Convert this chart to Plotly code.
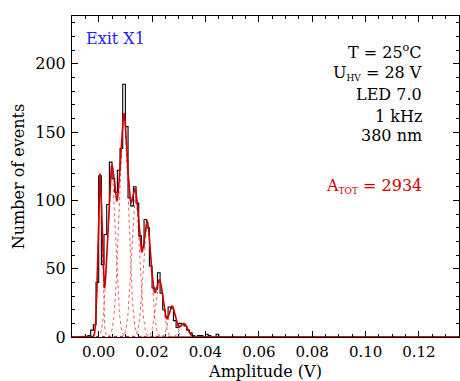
import numpy as np
import plotly.graph_objects as go

# Pulse-height histogram (events per 1 mV bin), bins start at -0.006 V
bin_start = -0.006
bin_width = 0.001
counts = [0, 0, 1, 5, 9, 40, 118, 53, 75, 97, 128, 116, 106, 122, 138, 185, 154,
          102, 96, 110, 98, 74, 66, 86, 80, 52, 36, 35, 47, 32, 20, 15, 22, 21,
          12, 7, 10, 9, 8, 5, 3, 1, 0, 1, 1, 0, 2, 1, 0, 0, 2, 0, 0, 0, 0]

# Multi-Gaussian fit: one component per photo-electron peak
peak_centers = [0.0005, 0.0048, 0.0094, 0.0138, 0.0182, 0.0228, 0.0275, 0.0319]
peak_heights = [117, 121, 161, 101, 83, 41, 22.5, 10]
peak_sigmas = [0.00075, 0.0015, 0.0017, 0.0015, 0.0015, 0.0014, 0.0013, 0.0014]

x_range = [-0.01, 0.135]
y_range = [0, 235]

FONT = "DejaVu Serif"
RED = "#cc0000"

fig = go.Figure()

# histogram as a step line
edges = bin_start + bin_width * np.arange(len(counts) + 1)
fig.add_trace(go.Scatter(
    x=edges, y=counts + [counts[-1]], mode="lines",
    line=dict(shape="hv", color="black", width=1.1),
    hoverinfo="skip", showlegend=False))

# fit components and their sum
xg = np.linspace(x_range[0], x_range[1], 2901)
total = np.zeros_like(xg)
for c, a, s in zip(peak_centers, peak_heights, peak_sigmas):
    g = a * np.exp(-0.5 * ((xg - c) / s) ** 2)
    total += g
    fig.add_trace(go.Scatter(
        x=xg, y=g, mode="lines",
        line=dict(color="rgba(230,40,40,0.75)", width=1, dash="dot"),
        hoverinfo="skip", showlegend=False))

fig.add_trace(go.Scatter(
    x=xg, y=total, mode="lines",
    line=dict(color=RED, width=1.6),
    hoverinfo="skip", showlegend=False))

axis_common = dict(
    showline=True, linecolor="black", linewidth=1, mirror="allticks",
    ticks="inside", tickcolor="black", ticklen=6, tickwidth=1,
    showgrid=False, zeroline=False,
)

fig.update_layout(
    width=460, height=381,
    margin=dict(l=72, r=1, t=16, b=44),
    paper_bgcolor="white", plot_bgcolor="white",
    font=dict(family=FONT, size=16, color="black"),
    xaxis=dict(
        range=x_range, tick0=0, dtick=0.02, tickformat=".2f",
        minor=dict(dtick=0.005, tick0=0, ticks="inside", ticklen=3, tickcolor="black"),
        tickfont=dict(family=FONT, size=15, color="black"),
        title=dict(text="Amplitude (V)", font=dict(family=FONT, size=16), standoff=7),
        ticklabelstandoff=1,
        **axis_common),
    yaxis=dict(
        range=y_range, tick0=0, dtick=50,
        minor=dict(dtick=10, tick0=0, ticks="inside", ticklen=3, tickcolor="black"),
        tickfont=dict(family=FONT, size=16, color="black"),
        title=dict(text="Number of events", font=dict(family=FONT, size=16), standoff=6),
        ticklabelstandoff=2,
        **axis_common),
)

def note(text, y, color="black", x=0.9096, anchor="right"):
    fig.add_annotation(
        text=text, x=x, y=y, xref="paper", yref="paper",
        xanchor=anchor, yanchor="middle", showarrow=False,
        font=dict(family=FONT, size=16, color=color))

SUB = '<sub><span style="font-size:9px">{}</span></sub>'

note("Exit X1", 0.931, color="#2222ff", x=0.031, anchor="left")
note("T = 25<sup>o</sup>C", 0.888)
note("U" + SUB.format("HV") + " = 28 V", 0.822)
note("LED 7.0", 0.757)
note("1 kHz", 0.688)
note("380 nm", 0.629)
note("A" + SUB.format("TOT") + " = 2934", 0.470, color=RED)

fig.write_html("out.html")
